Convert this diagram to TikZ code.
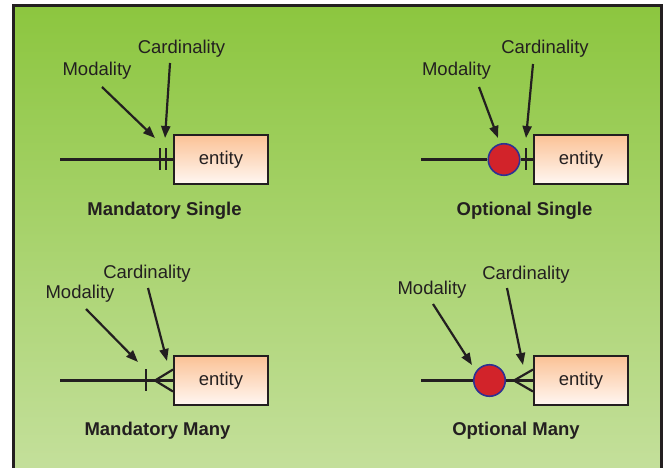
\documentclass[tikz,border=0pt]{standalone}
\usepackage{fontspec}
\setmainfont{Liberation Sans}
\usetikzlibrary{arrows.meta}

\definecolor{panelTop}{RGB}{140,198,63}
\definecolor{panelBot}{RGB}{197,224,157}
\definecolor{ink}{RGB}{35,31,32}
\definecolor{peachTop}{RGB}{251,194,150}
\definecolor{peachBot}{RGB}{255,247,242}
\definecolor{dotRed}{RGB}{210,35,42}
\definecolor{dotRim}{RGB}{46,49,146}

\begin{document}
\begin{tikzpicture}[x=1pt,y=-1pt,
  lbl/.style={font=\fontsize{18.5}{22}\selectfont, text=ink, inner sep=0pt, anchor=base},
  caption/.style={lbl, font=\fontsize{18.5}{22}\selectfont\bfseries},
  entitybox/.style={draw=ink, line width=2pt, minimum width=94pt, minimum height=49pt,
    top color=peachTop, bottom color=peachBot, inner sep=0pt,
    font=\fontsize{18.5}{22}\selectfont, text=ink},
  optdot/.style={circle, draw=dotRim, line width=1.6pt, fill=dotRed,
    minimum size=31.5pt, inner sep=0pt},
  relline/.style={draw=ink, line width=2.2pt},
  tickmark/.style={draw=ink, line width=2pt},
  pointer/.style={draw=ink, line width=2.2pt, -{Triangle[length=12pt,width=9pt]}},
]
\useasboundingbox (0,0) rectangle (666,467);
\clip (0,0) rectangle (666,467);

% background panel with its frame
\shade[top color=panelTop, bottom color=panelBot] (13.5,5.5) rectangle (661.5,480);
\draw[ink, line width=3pt] (13.5,480) -- (13.5,5.5) -- (661.5,5.5) -- (661.5,480);

% ---------- Mandatory Single ----------
\node[entitybox] (e1) at (221,159.5) {entity};
\coordinate (s1) at (60,159.5);
\draw[relline] (s1) -- (e1.west);
\coordinate (b1a) at (160,148); \coordinate (b1b) at (160,170);
\coordinate (b1c) at (166,148); \coordinate (b1d) at (166,170);
\draw[tickmark] (b1a) -- (b1b);
\draw[tickmark] (b1c) -- (b1d);
\node[lbl] (card1) at (181.5,53.5) {Cardinality};
\node[lbl] (mod1) at (97,75) {Modality};
\coordinate (c1a) at (170,63);  \coordinate (c1b) at (165,138);
\coordinate (m1a) at (102,87);  \coordinate (m1b) at (155,138);
\draw[pointer] (c1a) -- (c1b);
\draw[pointer] (m1a) -- (m1b);
\node[caption] (cap1) at (164.5,215) {Mandatory Single};

% ---------- Optional Single ----------
\node[entitybox] (e2) at (581,159.5) {entity};
\node[optdot] (o2) at (504,159.5) {};
\coordinate (s2) at (421,159.5);
\draw[relline] (s2) -- (o2.west);
\draw[relline] (o2.east) -- (e2.west);
\coordinate (b2a) at (526,148); \coordinate (b2b) at (526,170);
\draw[tickmark] (b2a) -- (b2b);
\node[lbl] (card2) at (545,53.5) {Cardinality};
\node[lbl] (mod2) at (456.5,75) {Modality};
\coordinate (c2a) at (533,64);  \coordinate (c2b) at (526,138);
\coordinate (m2a) at (479,87);  \coordinate (m2b) at (498,138);
\draw[pointer] (c2a) -- (c2b);
\draw[pointer] (m2a) -- (m2b);
\node[caption] (cap2) at (524.5,215) {Optional Single};

% ---------- Mandatory Many ----------
\node[entitybox] (e3) at (221,380.5) {entity};
\coordinate (s3) at (60,380.5);
\draw[relline] (s3) -- (e3.west);
\coordinate (b3a) at (146,369); \coordinate (b3b) at (146,391);
\draw[tickmark] (b3a) -- (b3b);
\coordinate (f3) at (155,380.5);
\coordinate (f3u) at (173,369.5); \coordinate (f3d) at (173,391.5);
\draw[relline] (f3u) -- (f3) -- (f3d);
\node[lbl] (card3) at (147,278.5) {Cardinality};
\node[lbl] (mod3) at (80,298.5) {Modality};
\coordinate (c3a) at (148,288); \coordinate (c3b) at (167,361);
\coordinate (m3a) at (86,309);  \coordinate (m3b) at (138,362);
\draw[pointer] (c3a) -- (c3b);
\draw[pointer] (m3a) -- (m3b);
\node[caption] (cap3) at (157.5,435) {Mandatory Many};

% ---------- Optional Many ----------
\node[entitybox] (e4) at (581,380.5) {entity};
\node[optdot] (o4) at (489.5,380.5) {};
\coordinate (s4) at (421,380.5);
\draw[relline] (s4) -- (o4.west);
\draw[relline] (o4.east) -- (e4.west);
\coordinate (f4) at (514,380.5);
\coordinate (f4u) at (533,369.5); \coordinate (f4d) at (533,391.5);
\draw[relline] (f4u) -- (f4) -- (f4d);
\node[lbl] (card4) at (526,279) {Cardinality};
\node[lbl] (mod4) at (432,294.5) {Modality};
\coordinate (c4a) at (507,288); \coordinate (c4b) at (523,365);
\coordinate (m4a) at (433,304); \coordinate (m4b) at (472,365);
\draw[pointer] (c4a) -- (c4b);
\draw[pointer] (m4a) -- (m4b);
\node[caption] (cap4) at (516,435) {Optional Many};
\end{tikzpicture}
\end{document}
